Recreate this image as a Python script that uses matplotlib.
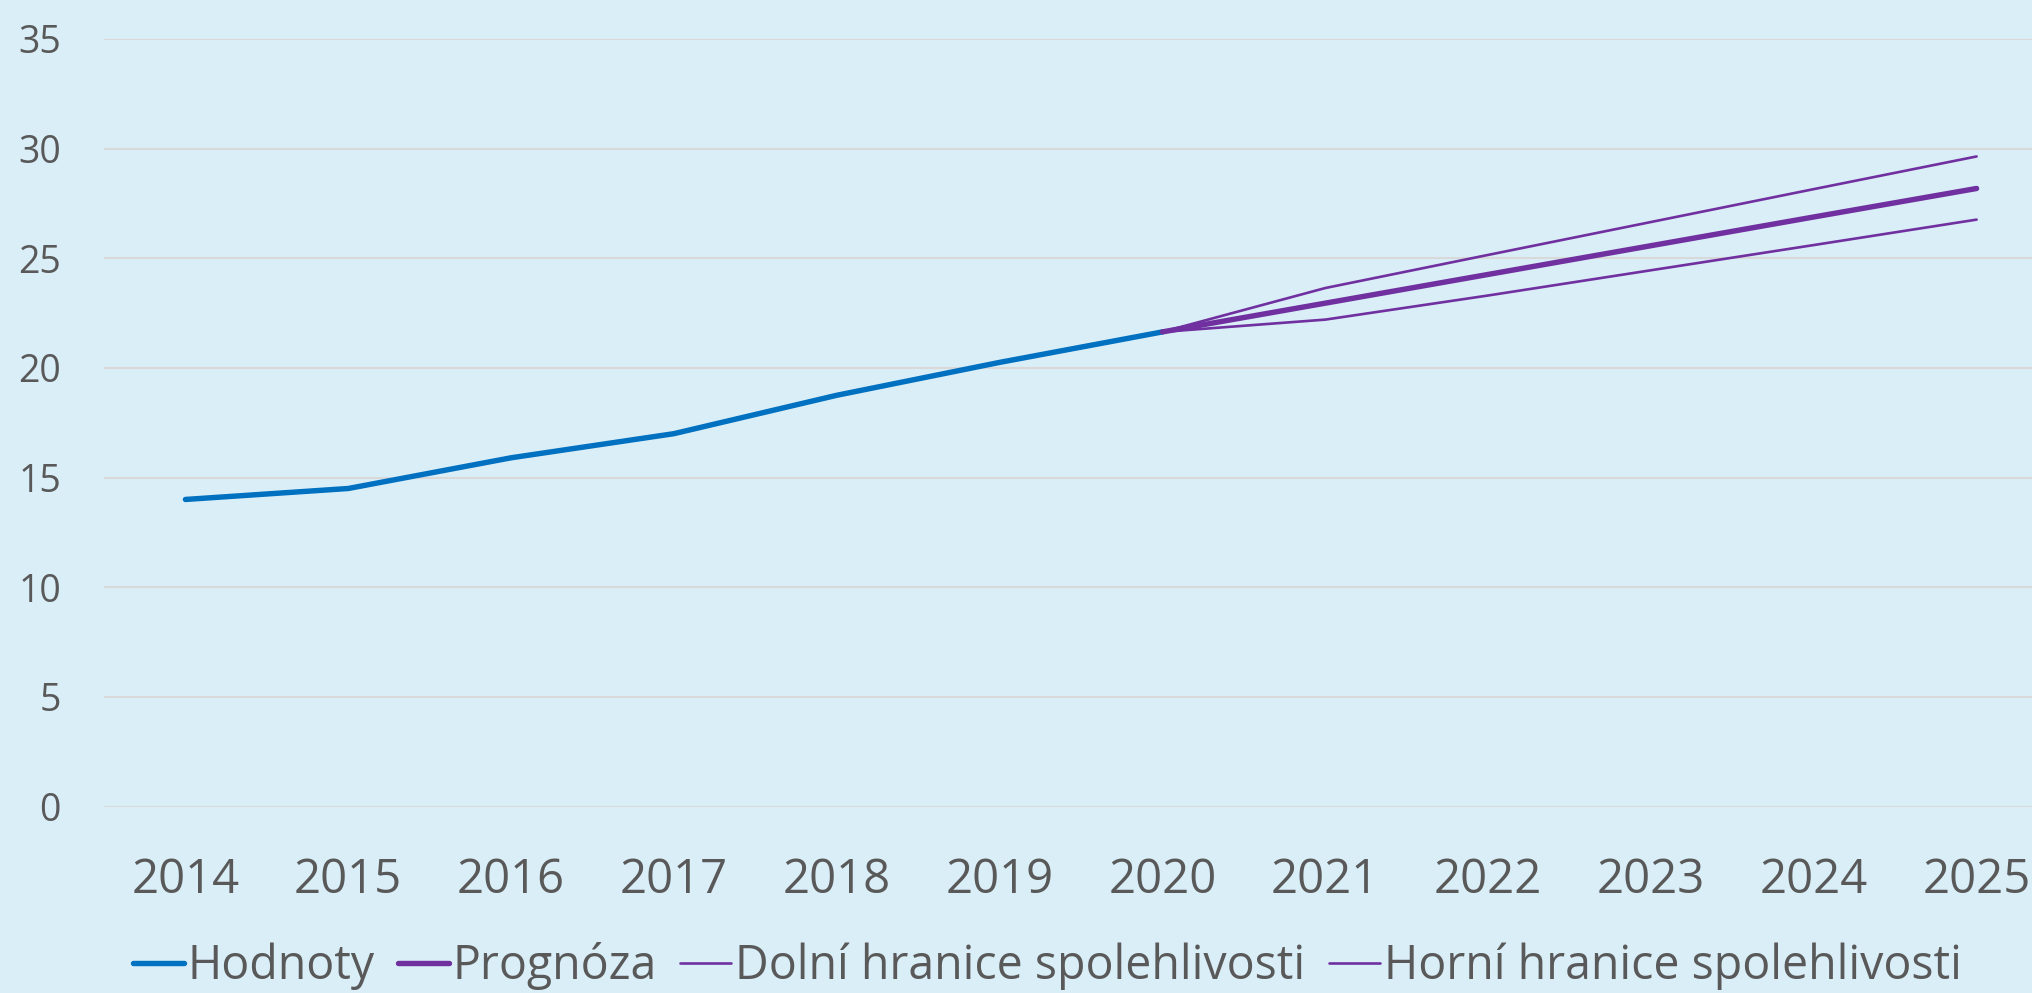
import matplotlib
matplotlib.use("Agg")
import matplotlib.pyplot as plt

years = ["2014", "2015", "2016", "2017", "2018", "2019", "2020",
         "2021", "2022", "2023", "2024", "2025"]
hodnoty = [14.0, 14.5, 15.9, 17.0, 18.75, 20.25, 21.64]
prognoza = [21.64, 22.95, 24.26, 25.57, 26.88, 28.18]
dolni = [21.64, 22.2, 23.3, 24.45, 25.6, 26.76]
horni = [21.64, 23.64, 25.15, 26.65, 28.15, 29.64]
yticks = [0, 5, 10, 15, 20, 25, 30, 35]

BG = "#DAEEF8"
BLUE = "#0070C0"
PURPLE = "#7030A0"
GRID = "#D9D9D9"
TXT = "#595959"

plt.rcParams['font.family'] = ['Open Sans', 'DejaVu Sans']

fig = plt.figure(figsize=(20.33, 9.93), dpi=100, facecolor=BG)
ax = fig.add_axes([104/2033, 1-806.5/993, (2058-104)/2033, (806.5-38.9)/993])
ax.set_facecolor(BG)

x_all = list(range(len(years)))
x_h = x_all[:len(hodnoty)]
x_f = x_all[len(hodnoty)-1:]

ax.plot(x_h, hodnoty, color=BLUE, lw=3.9, solid_capstyle='round', label="Hodnoty", zorder=3)
ax.plot(x_f, prognoza, color=PURPLE, lw=3.9, solid_capstyle='round', label="Prognóza", zorder=3)
ax.plot(x_f, dolni, color=PURPLE, lw=1.9, solid_capstyle='round', label="Dolní hranice spolehlivosti", zorder=3)
ax.plot(x_f, horni, color=PURPLE, lw=1.9, solid_capstyle='round', label="Horní hranice spolehlivosti", zorder=3)

ax.set_xlim(-0.5, len(years)-0.5)
ax.set_ylim(0, 35)
ax.set_yticks(yticks)
ax.set_xticks(x_all)
ax.set_xticklabels(years)
ax.yaxis.grid(True, color=GRID, lw=1.5)
ax.set_axisbelow(True)
for s in ax.spines.values():
    s.set_visible(False)
ax.tick_params(axis='both', length=0, colors=TXT)
ax.tick_params(axis='x', labelsize=34, pad=36)
ax.tick_params(axis='y', labelsize=27, pad=31)

leg = fig.legend(loc='center', bbox_to_anchor=(0.515, 1-966/993), ncol=4, frameon=False,
                 fontsize=33.5, handlelength=1.1, handletextpad=0.08, columnspacing=0.5, labelcolor=TXT)

fig.savefig("out.png", dpi=100, facecolor=BG)
